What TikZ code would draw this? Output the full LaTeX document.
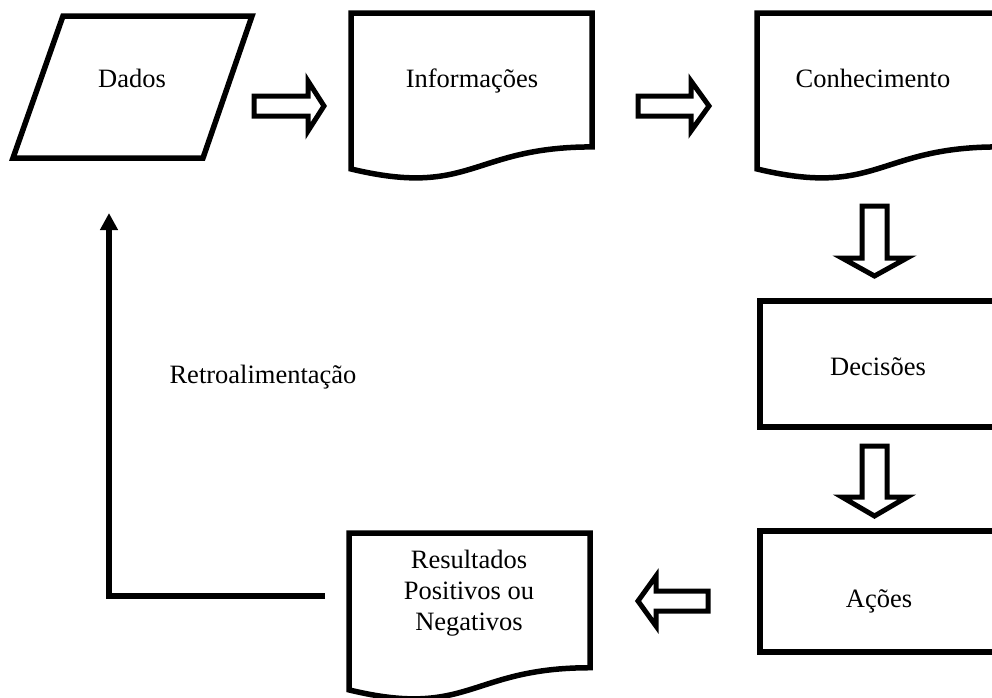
\documentclass[tikz,border=0pt]{standalone}
\usepackage{fontspec}
\setmainfont{Liberation Serif}
\usetikzlibrary{arrows.meta}

\tikzset{
  outline/.style={draw=black, line width=5.5pt, line join=miter, fill=white},
  blockarrow/.style={draw=black, line width=5pt, line join=miter, fill=white},
  caption/.style={font=\fontsize{26.5}{31}\selectfont, align=center, inner sep=0pt},
  feedback/.style={draw=black, line width=6pt, line join=miter,
    -{Triangle[width=17pt,length=17pt]}},
}

% Flowchart "document" symbol: x, y of the top-left corner, width, height
\newcommand\docshape[4]{%
  \draw[outline] (#1,#2) -- ({#1+#3},#2) -- ({#1+#3},{#2+0.8019*#4})
    .. controls ({#1+0.5*#3},{#2+0.8019*#4}) and ({#1+0.5*#3},{#2+1.1075*#4})
    .. (#1,{#2+0.9339*#4}) -- cycle;}

\begin{document}
\begin{tikzpicture}[x=1pt, y=-1pt]
  \useasboundingbox (0,0) rectangle (992,697);
  \clip (0,0) rectangle (992,697);

  % Shapes
  \draw[outline] (63,16) -- (252,16) -- (203,158) -- (13,158) -- cycle;
  \docshape{351}{13}{241}{167}
  \docshape{757}{13}{241}{167}
  \draw[outline] (760,301) rectangle (1000,427);
  \draw[outline] (760,531) rectangle (1000,652);
  \docshape{349}{533}{241}{168}

  % Block arrows between the steps
  \draw[blockarrow] (254,96) -- (308,96) -- (308,81) -- (324,106)
    -- (308,131) -- (308,116) -- (254,116) -- cycle;
  \draw[blockarrow] (638,96) -- (691,96) -- (691,81) -- (709,106)
    -- (691,131) -- (691,116) -- (638,116) -- cycle;
  \draw[blockarrow] (862,206) -- (887,206) -- (887,258) -- (907,258)
    -- (874.5,276) -- (842,258) -- (862,258) -- cycle;
  \draw[blockarrow] (862,446) -- (887,446) -- (887,497) -- (907,497)
    -- (874.5,516) -- (842,497) -- (862,497) -- cycle;
  \draw[blockarrow] (708,591) -- (656,591) -- (656,576) -- (638,601)
    -- (656,626) -- (656,611) -- (708,611) -- cycle;

  % Labels
  \node[caption, anchor=base] (dados) at (132,87) {Dados};
  \node[caption, anchor=base] (info) at (472,87) {Informações};
  \node[caption, anchor=base] (conh) at (873,87) {Conhecimento};
  \node[caption, anchor=base] (dec) at (878,375) {Decisões};
  \node[caption, anchor=base] (acoes) at (879,607) {Ações};
  \node[caption, anchor=center] (res) at (469,593)
    {Resultados\\Positivos ou\\Negativos};
  \node[caption, anchor=base] (retro) at (263,383) {Retroalimentação};

  % Feedback loop back to the data
  \coordinate (fbstart) at (325,596);
  \coordinate (fbend) at (109,213);
  \draw[feedback] (fbstart) -| (fbend);
\end{tikzpicture}
\end{document}
